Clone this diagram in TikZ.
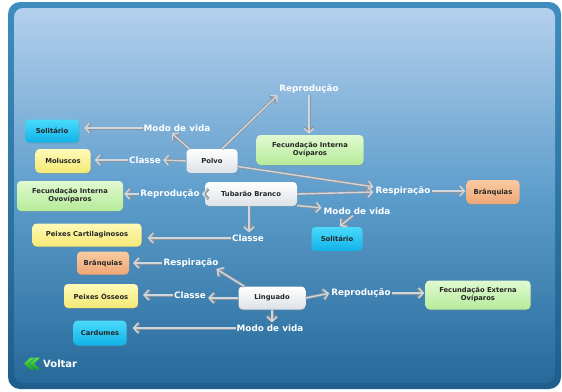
\documentclass[tikz,border=0pt]{standalone}
\usepackage{fontspec}
\setmainfont{DejaVu Sans}
\usetikzlibrary{arrows.meta,shadows}

\definecolor{frameTop}{HTML}{3E8DBE}
\definecolor{frameBot}{HTML}{1E5E8C}
\definecolor{bgTop}{HTML}{B4D0EC}
\definecolor{bgMid}{HTML}{5D9DCC}
\definecolor{bgBot}{HTML}{276A99}
\definecolor{cyanT}{HTML}{4ADAFB}
\definecolor{cyanB}{HTML}{10B2E8}
\definecolor{yelT}{HTML}{FFFBB8}
\definecolor{yelB}{HTML}{F4E874}
\definecolor{grnT}{HTML}{E0FAD0}
\definecolor{grnB}{HTML}{B6EB9A}
\definecolor{orgT}{HTML}{FACBA2}
\definecolor{orgB}{HTML}{EFA675}
\definecolor{whtB}{HTML}{DCE1E7}
\definecolor{linkEdge}{HTML}{8C959E}
\definecolor{linkFill}{HTML}{D2D6DA}
\definecolor{voltarT}{HTML}{5BE04B}
\definecolor{voltarB}{HTML}{18A818}

\tikzset{
  box/.style={rounded corners=4pt, align=center, inner sep=0pt,
    font=\bfseries\fontsize{6.8}{8}\selectfont, text=black!85,
    drop shadow={opacity=0.25, shadow xshift=0.8pt, shadow yshift=-1.2pt}},
  cyanbox/.style={box, top color=cyanT, bottom color=cyanB},
  yelbox/.style={box, top color=yelT, bottom color=yelB},
  grnbox/.style={box, top color=grnT, bottom color=grnB},
  orgbox/.style={box, top color=orgT, bottom color=orgB},
  whtbox/.style={box, top color=white, bottom color=whtB},
  lbl/.style={text=white, inner sep=1pt, font=\bfseries\fontsize{8.8}{10}\selectfont},
  % grey tube with an open chevron head
  vtip/.tip={Straight Barb[length=4.5pt, width=10pt]},
  link/.style={draw=linkEdge, line width=3pt, -{vtip}, shorten >=1pt,
    postaction={draw=linkFill, line width=1.4pt, -{vtip}, shorten >=1pt}},
  chev/.style={top color=voltarT, bottom color=voltarB},
}

\begin{document}
\begin{tikzpicture}[x=1pt,y=-1pt]
\useasboundingbox (0,0) rectangle (562,391);
\fill[white] (0,0) rectangle (562,391);

% panel frame and background
\shade[top color=frameTop, bottom color=frameBot, rounded corners=12pt] (8,2) rectangle (561,389);
\shade[top color=bgTop, bottom color=bgBot, middle color=bgMid, rounded corners=9pt] (14,8) rectangle (555,383);

% concept boxes
\node[cyanbox, minimum width=54pt, minimum height=23pt] (solA) at (52,131) {Solitário};
\node[yelbox, minimum width=55pt, minimum height=24pt] (mol) at (63,161) {Moluscos};
\node[grnbox, minimum width=106pt, minimum height=30pt] (fecOvo) at (70,196) {Fecundação Interna\\Ovovíparos};
\node[yelbox, minimum width=109pt, minimum height=23pt] (pcart) at (87,235) {Peixes Cartilaginosos};
\node[orgbox, minimum width=52pt, minimum height=23pt] (branqA) at (103,263) {Brânquias};
\node[yelbox, minimum width=74pt, minimum height=24pt] (posseos) at (101,296) {Peixes Ósseos};
\node[cyanbox, minimum width=53pt, minimum height=25pt] (card) at (100,333) {Cardumes};

\node[whtbox, minimum width=51pt, minimum height=24pt] (polvo) at (212,161) {Polvo};
\node[whtbox, minimum width=92pt, minimum height=24pt] (tub) at (251,194) {Tubarão Branco};
\node[whtbox, minimum width=67pt, minimum height=23pt] (ling) at (272,298) {Linguado};

\node[grnbox, minimum width=107pt, minimum height=30pt] (fecOvi) at (310,150) {Fecundação Interna\\Ovíparos};
\node[orgbox, minimum width=53pt, minimum height=24pt] (branqB) at (493,192) {Brânquias};
\node[cyanbox, minimum width=51pt, minimum height=24pt] (solB) at (337,239) {Solitário};
\node[grnbox, minimum width=105pt, minimum height=29pt] (fecExt) at (478,295) {Fecundação Externa\\Ovíparos};

% relation labels
\node[lbl] (repA) at (309,89) {Reprodução};
\node[lbl] (modoA) at (177,128) {Modo de vida};
\node[lbl] (classeA) at (145,160) {Classe};
\node[lbl] (repB) at (170,194) {Reprodução};
\node[lbl] (respB) at (403,191) {Respiração};
\node[lbl] (modoB) at (357,211) {Modo de vida};
\node[lbl] (classeB) at (248,238) {Classe};
\node[lbl] (respC) at (191,263) {Respiração};
\node[lbl] (classeC) at (190,295) {Classe};
\node[lbl] (modoC) at (270,328) {Modo de vida};
\node[lbl] (repC) at (361,293) {Reprodução};

% Polvo
\draw[link] ([xshift=3pt]polvo.north west) -- ([xshift=-6pt]modoA.south);
\draw[link] (modoA.west) -- ([xshift=4pt]modoA.west -| solA.east);
\draw[link] (polvo.west) -- (classeA.east);
\draw[link] (classeA.west) -- ([xshift=3pt]classeA.west -| mol.east);
\draw[link] ([xshift=10pt]polvo.north) -- (repA.south west);
\draw[link] (repA.south) -- (repA.south |- fecOvi.north);
\draw[link] (polvo.-12) -- ([yshift=4pt]respB.west);

% Tubarao Branco
\draw[link] (tub.west) -- (repB.east);
\draw[link] (repB.west) -- (repB.west -| fecOvo.east);
\draw[link] (tub.east) -- ([yshift=-1pt]respB.west);
\draw[link] (tub.-14) -- ([yshift=3pt]modoB.west);
\draw[link] ([xshift=-4pt]modoB.south) -- ([xshift=2pt]solB.north);
\draw[link] ([xshift=-2pt]tub.south) -- ([xshift=-2pt]tub.south |- classeB.north);
\draw[link] (classeB.west) -- ([xshift=5pt]classeB.west -| pcart.east);
\draw[link] (respB.east) -- (respB.east -| branqB.west);

% Linguado
\draw[link] ([xshift=6pt]ling.north west) -- ([xshift=-4pt]respC.south east);
\draw[link] (respC.west) -- ([xshift=3pt]respC.west -| branqA.east);
\draw[link] (ling.west) -- (ling.west -| classeC.east);
\draw[link] (classeC.west) -- ([xshift=4pt]classeC.west -| posseos.east);
\draw[link] (ling.south) -- (ling.south |- modoC.north);
\draw[link] (modoC.west) -- ([xshift=5pt]modoC.west -| card.east);
\draw[link] (ling.east) -- (repC.west);
\draw[link] (repC.east) -- (repC.east -| fecExt.west);

% back button: double green chevron
\shade[chev] (24,363.5) -- (30.5,357.5) -- (34.5,357.5) -- (28.5,363.5) -- (34.5,369.5) -- (30.5,369.5) -- cycle;
\shade[chev] (29.5,363.5) -- (36,357.5) -- (40,357.5) -- (34,363.5) -- (40,369.5) -- (36,369.5) -- cycle;
\node[lbl, font=\bfseries\fontsize{10}{12}\selectfont, anchor=west] (voltar) at (42,364) {Voltar};
\end{tikzpicture}
\end{document}
